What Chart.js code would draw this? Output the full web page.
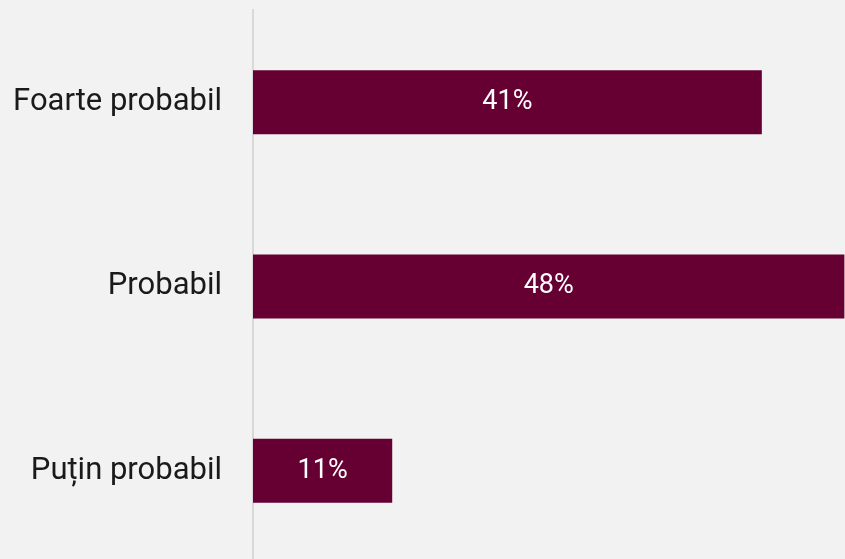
<!DOCTYPE html>
<html>
<head>
<meta charset="utf-8">
<script src="https://cdn.jsdelivr.net/npm/chart.js@4/dist/chart.umd.min.js"></script>
<style>
html,body{margin:0;padding:0;background:#f2f2f2;overflow:hidden;}
#chart{display:block;}
</style>
</head>
<body>
<canvas id="chart" width="845" height="563"></canvas>
<script>
// chart data
const categories = ["Foarte probabil", "Probabil", "Puțin probabil"];
const shares = [41.3, 48.0, 11.3];

// draws the % text in the middle of each bar
const barLabels = {
    id:"barLabels",
    afterDatasetsDraw(chart){
        const ctx = chart.ctx;
        const meta = chart.getDatasetMeta(0);
        ctx.save();
        ctx.fillStyle = "#ffffff";
        ctx.font = "27px Roboto";
        ctx.textAlign = "center";
        ctx.textBaseline = "middle";
        meta.data.forEach((bar, i)=>{
            const right = Math.min(bar.x, chart.chartArea.right);
            const cx = (bar.base + right) / 2;
            ctx.fillText(Math.round(shares[i]) + "%", cx, bar.y);
        });
        ctx.restore();
    }
};

new Chart(document.getElementById("chart"), {
    type:"bar",
    plugins:[barLabels],
    data:{
        labels:categories,
        datasets:[{
            data:shares,
            backgroundColor:"#660033",
            borderWidth:0,
            categoryPercentage:1,
            barPercentage:0.347
        }]
    },
    options:{
        indexAxis:"y",
        responsive:false,
        animation:false,
        layout:{ padding:{ top:10, right:0, bottom:0, left:0 } },
        plugins:{
            legend:{ display:false },
            tooltip:{ enabled:false }
        },
        scales:{
            x:{
                display:false,
                min:0,
                max:48.05
            },
            y:{
                afterFit(scale){
                    scale.width = 253;
                    scale.paddingTop = 0;
                    scale.paddingBottom = 0;
                },
                grid:{ display:false, drawTicks:false },
                border:{ display:true, color:"#d9d9d9", width:2 },
                ticks:{
                    color:"#1a1a1a",
                    padding:31,
                    font:{ family:"Roboto", size:31 }
                }
            }
        }
    }
});
</script>
</body>
</html>
